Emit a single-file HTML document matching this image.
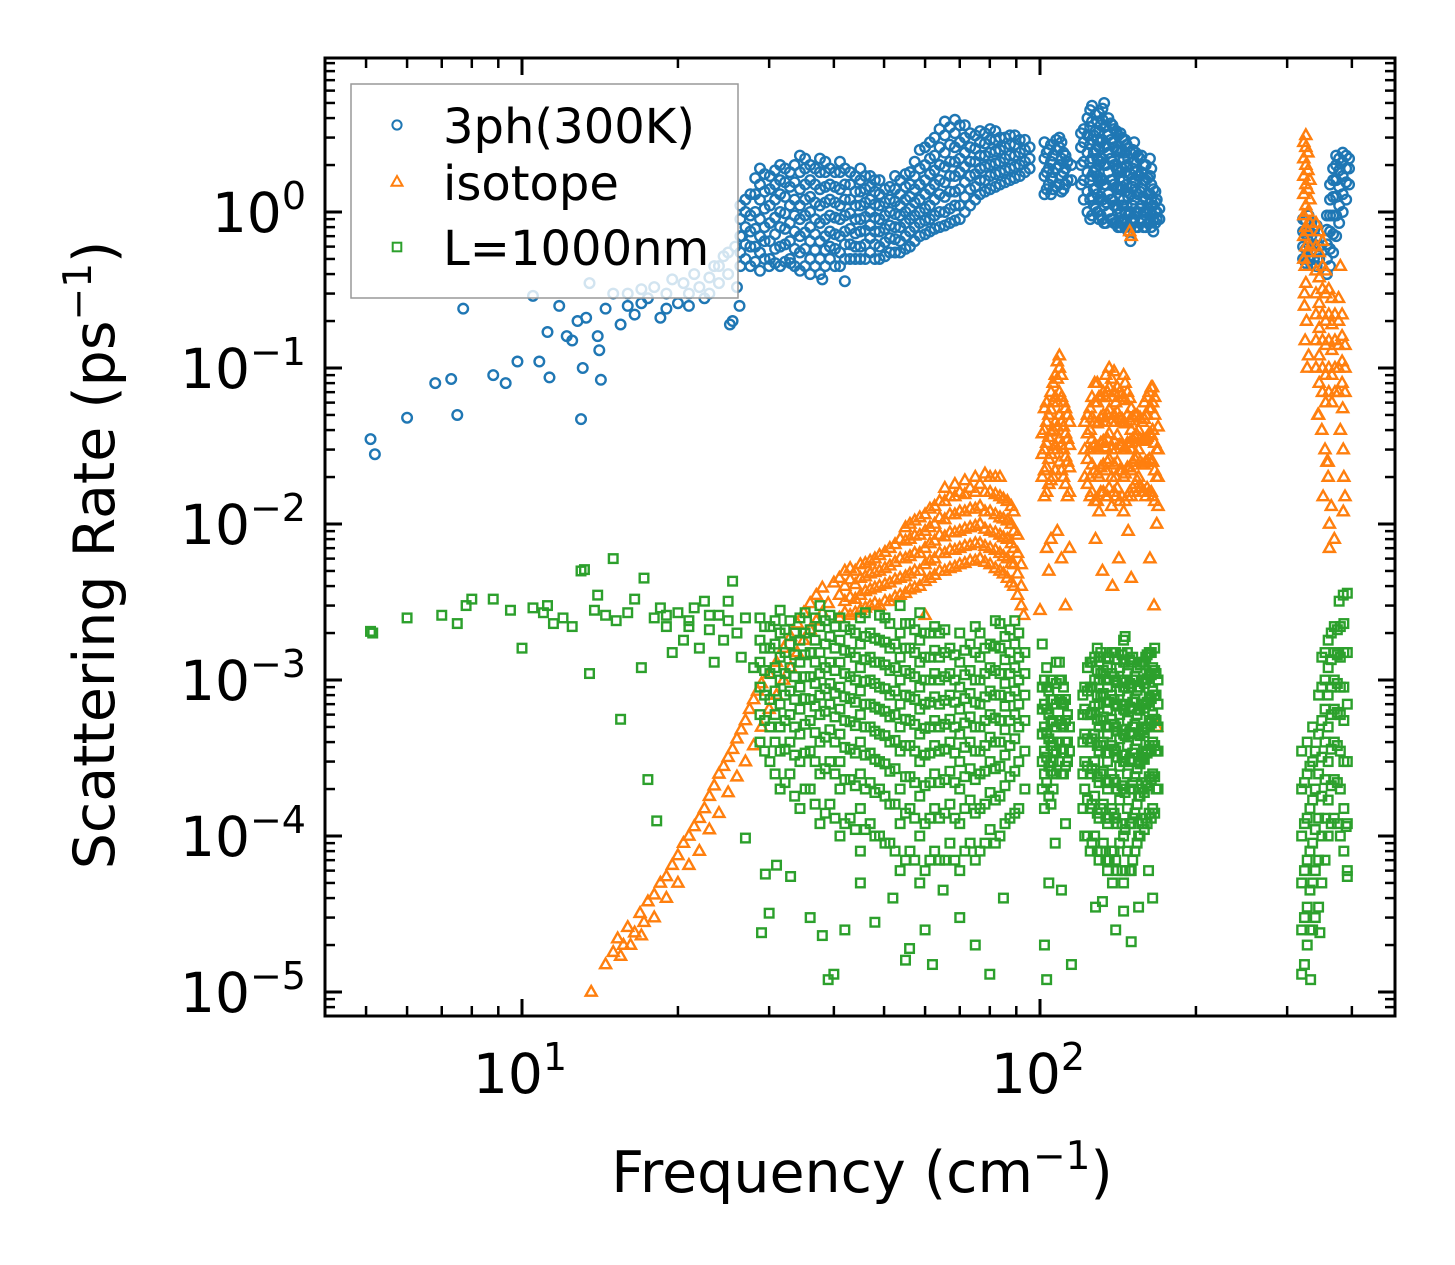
<!DOCTYPE html>
<html><head><meta charset="utf-8">
<style>
html,body{margin:0;padding:0;background:#fff;}
svg{display:block;font-family:"DejaVu Sans","Liberation Sans",sans-serif;}
</style></head>
<body>
<svg id="chart" width="1455" height="1265" viewBox="0 0 1455 1265" xmlns="http://www.w3.org/2000/svg">
<rect width="1455" height="1265" fill="#fff"/>
<g id="marks"></g>
<g id="axes"></g>
</svg>
<script>
// ---- data (frequency cm^-1, scattering rate ps^-1) ----
const xTickValues = [10, 100];
const yTickValues = [1e-5, 1e-4, 1e-3, 1e-2, 1e-1, 1];
const xTickExps = ['1', '2'];
const yTickExps = ['\u22125', '\u22124', '\u22123', '\u22122', '\u22121', '0'];
const seriesNames = ['3ph(300K)', 'isotope', 'L=1000nm'];

const bluePairs = [[5.1,0.035],[5.2,0.028],[6.0,0.048],[6.8,0.08],[7.3,0.085],[7.5,0.05],[7.7,0.24],[8.8,0.09],[9.3,0.08],[9.8,0.11],[10.5,0.29],[10.8,0.11],[11.2,0.17],[11.3,0.087],[11.8,0.25],[12.2,0.16],[12.5,0.15],[12.8,0.2],[13.0,0.047],[13.1,0.10],[13.3,0.21],[13.5,0.35],[14.0,0.16],[14.1,0.13],[14.2,0.084],[14.5,0.24],[15,0.3],[15.5,0.19],[16,0.3],[16.5,0.22],[17,0.26],[17.5,0.28],[18,0.33],[18.5,0.21],[19,0.3],[19.5,0.37],[20,0.26],[20.5,0.35],[21,0.3],[21.5,0.4],[22,0.33],[22.5,0.28],[23,0.38],[23.5,0.45],[24,0.35],[24.5,0.52],[25,0.4],[25.2,0.19],[25.5,0.2],[25.8,0.6],[26,0.33],[26.3,0.25],[26.6,0.7],[23,0.3],[21,0.25],[19,0.24],[17,0.32],[16,0.25],[24,0.45],[25,0.55],[38,0.37],[42,0.36],[36,0.4],[33,0.47],[30,0.45]];
const blueGroups = [
 [26.4,[0.45,0.55,0.7,0.9,1.1]],[27.6,[0.45,0.6,0.75,0.95,1.3]],[28.8,[0.42,0.55,0.7,0.9,1.2,1.5,1.9]],[30.1,[0.5,0.65,0.85,1.1,1.4,1.7]],
 [31.5,[0.45,0.6,0.8,1.0,1.3,1.6,2.0]],[32.9,[0.5,0.65,0.85,1.1,1.45,1.8]],[34.4,[0.42,0.55,0.7,0.9,1.1,1.4,1.8,2.3]],[36.0,[0.5,0.65,0.8,1.0,1.25,1.6,2.0]],
 [37.6,[0.4,0.5,0.65,0.85,1.1,1.4,1.8,2.2]],[39.3,[0.5,0.6,0.75,0.95,1.2,1.5,1.9]],[41.1,[0.45,0.55,0.7,0.9,1.1,1.4,1.8,2.1]],[43.0,[0.5,0.62,0.78,0.98,1.2,1.5,1.8]],
 [45,[0.5,0.6,0.75,0.9,1.1,1.35,1.6,1.9]],[47,[0.55,0.68,0.82,1.0,1.2,1.45,1.7]],[49,[0.5,0.6,0.75,0.9,1.1,1.3,1.6]],[51.3,[0.55,0.68,0.82,1.0,1.2,1.45]],
 [53.7,[0.55,0.65,0.8,0.95,1.1,1.3,1.6]],[56.1,[0.6,0.75,0.9,1.05,1.25,1.5,1.8]],[58.6,[0.7,0.85,1.0,1.2,1.5,1.9,2.5]],[61.3,[0.75,0.9,1.1,1.4,1.75,2.2,2.8]],
 [64,[0.8,1.0,1.3,1.6,2.0,2.6,3.4]],[67,[0.85,1.05,1.35,1.7,2.1,2.7,3.5]],[70,[0.9,1.1,1.4,1.8,2.2,2.8,3.6]],[73.3,[1.1,1.4,1.7,2.1,2.6,3.2]],
 [76.6,[1.3,1.6,1.9,2.3,2.8,3.3]],[80.1,[1.4,1.7,2.0,2.4,2.9,3.4]],[83.7,[1.5,1.8,2.1,2.5,3.0]],[87.5,[1.6,1.9,2.3,2.7,3.1]],[91.4,[1.7,2.0,2.4,2.9]],[95.5,[1.9,2.2,2.6]],
 [102,[1.3,1.7,2.2,2.8]],[104,[1.5,1.9,2.5]],[106,[1.4,1.8,2.3]],[109,[1.5,2.0,2.6,3.0]],[111,[1.4,1.8,2.4]],[113,[1.6,2.1]],
 [120,[1.5,2.0,2.6,3.2]],[125,[0.9,1.2,1.6,2.1,2.7,3.5,4.5]],[127,[1.1,1.4,1.8,2.4,3.1]],[129,[1.0,1.3,1.7,2.2,2.9,3.8]],[131,[0.95,1.25,1.6,2.1,2.8,3.6]],
 [133,[0.85,1.1,1.5,2.0,2.6,3.5,5.0]],[135.5,[1.0,1.3,1.8,2.4,3.1,4.0]],[138,[0.9,1.2,1.6,2.1,2.8,3.6]],[140.5,[0.85,1.1,1.45,1.9,2.5,3.3]],
 [143,[0.8,1.0,1.4,1.8,2.4,3.2]],[145,[0.9,1.2,1.6,2.2,2.9]],[147,[0.85,1.1,1.5,2.0,2.7]],[149.5,[0.65,0.8,1.0,1.3,1.75,2.4]],[152,[0.9,1.2,1.6,2.1,2.8]],
 [154.5,[0.8,1.0,1.3,1.7,2.3]],[157,[0.9,1.1,1.4,1.8,2.3]],[160,[0.8,1.0,1.2,1.6,2.0]],[163,[0.85,1.0,1.3,1.7,2.2]],[165.5,[0.75,0.9,1.1,1.4]],[168,[0.9,1.0,1.2]]
];
const blueGroupsExtra = [
 [27.0,[0.5,0.62,0.8,1.0,1.2]],[28.2,[0.48,0.6,0.78,1.0,1.3,1.65]],[29.4,[0.5,0.65,0.8,1.05,1.35,1.75]],[30.8,[0.47,0.58,0.72,0.92,1.2,1.5,1.85]],[32.2,[0.48,0.62,0.78,0.98,1.25,1.55,1.9]],[33.6,[0.45,0.58,0.75,0.95,1.2,1.55,2.0]],[35.2,[0.45,0.58,0.74,0.95,1.2,1.5,1.9,2.2]],[36.8,[0.45,0.57,0.72,0.9,1.15,1.5,1.9]],[38.5,[0.45,0.57,0.7,0.9,1.15,1.45,1.8,2.1]],[40.2,[0.45,0.58,0.72,0.92,1.15,1.45,1.8]],[42,[0.5,0.62,0.75,0.95,1.2,1.5,1.9]],[44,[0.5,0.6,0.73,0.9,1.1,1.35,1.7]],[46,[0.5,0.62,0.76,0.93,1.15,1.4,1.7]],[48,[0.5,0.62,0.75,0.92,1.12,1.35,1.6]],[50.2,[0.52,0.64,0.78,0.95,1.15,1.4]],[52.5,[0.55,0.67,0.8,0.97,1.17,1.4,1.7]],[55,[0.58,0.7,0.85,1.0,1.2,1.45,1.75]],[57.3,[0.65,0.8,0.95,1.15,1.4,1.7,2.1]],[60,[0.72,0.88,1.05,1.3,1.6,2.0,2.6]],[62.6,[0.78,0.95,1.2,1.5,1.85,2.3,3.0]],[65.5,[0.82,1.0,1.25,1.55,1.95,2.4,3.1,3.8]],[68.5,[0.88,1.1,1.35,1.7,2.1,2.6,3.2,3.9]],[71.6,[1.0,1.25,1.55,1.95,2.4,3.0,3.6]],[75,[1.2,1.45,1.75,2.1,2.55,3.1]],[78.3,[1.35,1.6,1.95,2.3,2.75,3.2]],[82,[1.45,1.75,2.05,2.45,2.9,3.3]],[85.6,[1.55,1.85,2.2,2.6,3.0]],[89.4,[1.65,1.95,2.3,2.7,3.1]],[93.5,[1.8,2.1,2.5,2.9]],
 [103,[1.4,1.8,2.4]],[105,[1.3,1.65,2.1,2.7]],[107.5,[1.45,1.9,2.5,2.9]],[110,[1.35,1.7,2.2,2.8]],[112,[1.5,1.9,2.3]],[115,[1.6,2.0]],
 [121.5,[1.2,1.6,2.1,2.8,3.4]],[123.5,[1.0,1.35,1.8,2.4,3.1,4.0]],[126,[0.95,1.25,1.7,2.2,2.9,3.8,4.8]],[128,[1.05,1.4,1.85,2.5,3.3,4.2]],[130,[0.9,1.2,1.55,2.0,2.6,3.3,4.3]],[132,[0.9,1.2,1.6,2.2,2.9,3.9,4.6]],[134,[0.85,1.15,1.5,2.0,2.7,3.6]],[137,[0.9,1.2,1.6,2.2,2.9,3.7]],[139,[0.85,1.1,1.5,2.0,2.6,3.4]],[141.5,[0.8,1.05,1.4,1.85,2.45,3.1]],[144,[0.85,1.1,1.45,1.9,2.5,3.0]],[146,[0.8,1.0,1.35,1.8,2.4,2.9]],[148,[0.75,0.95,1.25,1.7,2.2]],[151,[0.85,1.1,1.45,1.9,2.5]],[153,[0.8,1.0,1.35,1.8,2.4]],[156,[0.85,1.05,1.35,1.7,2.2]],[158.5,[0.8,1.0,1.25,1.6,2.0]],[161.5,[0.85,1.05,1.3,1.65]],[164,[0.8,0.95,1.2,1.5,1.9]],[167,[0.85,1.0,1.15,1.35]],[170,[0.9,1.05]],
 [322,[0.5,0.6,0.75,0.9]],[326,[0.47,0.58,0.72,0.88]],[330,[0.5,0.62,0.78,0.95]],[334,[0.46,0.57,0.7,0.85]],[338,[0.5,0.62,0.76]],[342,[0.45,0.55,0.68,0.82]],[346,[0.5,0.6]],
 [358,[0.4,0.5,0.62,0.77,0.95]],[363,[0.45,0.58,0.75,0.95,1.2,1.5]],[368,[0.55,0.72,0.95,1.25,1.6,1.9]],[373,[0.7,0.95,1.25,1.6,2.0,2.3]],[378,[0.85,1.1,1.45,1.85,2.2]],[384,[1.0,1.3,1.7,2.1,2.4]],[390,[1.2,1.55,1.9,2.3]],[395,[1.5,1.9,2.2]]
];

const orangePairs = [[13.6,1e-5],[14.5,1.5e-5],[15,1.8e-5],[15.3,2.2e-5],[15.7,2e-5],[16,2.6e-5],[16.5,2.4e-5],[16.9,3.2e-5],[17.2,2.8e-5],[17.5,3.8e-5],[18,4.2e-5],[18.5,5e-5],[19,5.5e-5],[19.5,6.5e-5],[20,7.5e-5],[20.5,9e-5],[21,1e-4],[21.5,1.15e-4],[22,1.3e-4],[22.5,1.5e-4],[23,1.8e-4],[23.5,2.1e-4],[24,2.5e-4],[24.5,2.8e-4],[25,3.2e-4],[25.5,3.6e-4],[26,4.2e-4],[26.5,4.8e-4],[27,5.5e-4],[27.5,6.5e-4],[28,7.5e-4],[28.5,8.5e-4],[29,9.5e-4],[30,1.1e-3],[31,1.3e-3],[32,1.6e-3],[33,1.9e-3],[34,2.3e-3],[35,2.7e-3],[36,3.1e-3],[37,3.5e-3],[38,3.9e-3],[40,4.2e-3],
 [15.5,1.7e-5],[16.2,2e-5],[17,2.3e-5],[18,3e-5],[19,4e-5],[20,5e-5],[21,6.5e-5],[22,8e-5],[23,1.1e-4],[24,1.4e-4],[25,1.9e-4],[26,2.4e-4],[27,3e-4],[28,3.8e-4],[29,5e-4],[30,6.5e-4],[31,8e-4],[32,1e-3],[33,1.2e-3],[34,1.5e-3],[35,1.8e-3],[36,2.1e-3],[37,2.4e-3],[38,2.7e-3],[39,3.1e-3],
 [103,7e-3],[104,5e-3],[105,8e-3],[108,9e-3],[110,6e-3],[112,3e-3],[114,7e-3],[128,8e-3],[132,5e-3],[138,4e-3],[142,6e-3],[148,9e-3],[150,4.5e-3],[163,6e-3],[166,3e-3],[168,5e-4],[150,0.7],[149,0.75],[93,2.6e-3],[60,2.6e-3],[100,2.8e-3],
 [325,0.45],[326,0.35],[324,0.25],[327,0.2],[325,0.15],[328,0.1],[324,0.3],[330,0.12],[345,0.05],[350,0.04],[355,0.03],[358,0.025],[360,0.02],[352,0.015],[365,0.013],[362,0.01],[370,0.008],[362,0.007],[380,0.04],[385,0.03],[386,0.02],[388,0.015],[385,0.012],[384,0.055],[380,0.45],[344,0.05],[360,0.025]];
const orangeGroups = [
 [41,[2.5e-3,3.5e-3,4.5e-3]],[43,[2.6e-3,3.4e-3,4.4e-3,5.2e-3]],[45,[2.8e-3,3.5e-3,4.5e-3,5.5e-3]],[47,[3e-3,3.8e-3,4.8e-3,5.8e-3]],[49,[3e-3,4e-3,5e-3,6.3e-3]],[51.3,[3.2e-3,4.2e-3,5.4e-3,7e-3]],
 [53.7,[3.5e-3,4.5e-3,6e-3,8e-3]],[56.1,[3.8e-3,4.8e-3,6.2e-3,8e-3,1e-2]],[58.6,[4e-3,5e-3,6.5e-3,8.5e-3,1.1e-2]],[61.3,[4.5e-3,5.8e-3,7.5e-3,9.5e-3,1.25e-2]],
 [64,[5e-3,6.5e-3,8.5e-3,1.1e-2,1.4e-2]],[67,[5.2e-3,6.8e-3,8.8e-3,1.15e-2,1.5e-2]],[70,[5.5e-3,7e-3,9e-3,1.2e-2,1.6e-2]],[73.3,[5.8e-3,7.3e-3,9.5e-3,1.25e-2,1.7e-2]],
 [76.6,[6e-3,7.5e-3,1e-2,1.3e-2,1.8e-2]],[80.1,[5.5e-3,7e-3,9e-3,1.2e-2,1.6e-2,2e-2]],[83.7,[5e-3,6.5e-3,8.5e-3,1.1e-2,1.5e-2,2e-2]],[86.5,[4.5e-3,6e-3,8e-3,1.05e-2,1.4e-2]],[89,[4e-3,5.5e-3,7e-3,9e-3,1.2e-2]],[92,[3e-3,4e-3,5.5e-3]],
 [102,[1.5e-2,2.2e-2,3e-2,4e-2,5.5e-2]],[104,[1.8e-2,2.6e-2,3.6e-2,5e-2]],[106,[2e-2,3e-2,4e-2,6e-2,8e-2]],[109,[2.5e-2,3.5e-2,5e-2,7e-2,0.1,0.12]],[111,[2e-2,3e-2,4.2e-2,6e-2]],[113,[1.5e-2,2.5e-2,3.5e-2,5e-2]],
 [122,[2e-2,3e-2,4.5e-2]],[125,[1.5e-2,2e-2,3e-2,4e-2,5.5e-2]],[127.5,[1.4e-2,2.2e-2,3.2e-2,4.5e-2,6e-2,8e-2]],[130,[1.2e-2,2e-2,3e-2,4.5e-2,6.5e-2]],[132.5,[1.6e-2,2.4e-2,3.4e-2,5e-2,7e-2]],
 [135,[1.5e-2,2.5e-2,3.5e-2,5e-2,7e-2]],[137.5,[1.3e-2,2e-2,3e-2,4.5e-2,6.5e-2,8.5e-2]],[140,[1.5e-2,2e-2,3e-2,4.5e-2,6e-2]],[142.5,[1.4e-2,2.2e-2,3.2e-2,4.8e-2,7e-2]],
 [145,[1.2e-2,2e-2,3e-2,4.5e-2,6.5e-2,9e-2]],[147.5,[1.5e-2,2.3e-2,3.3e-2,5e-2,7e-2]],[150,[1.5e-2,2.2e-2,3e-2,4e-2,5.5e-2]],[152.5,[1.8e-2,2.6e-2,3.6e-2,5e-2]],[155,[2e-2,3e-2,4e-2]],
 [157.5,[1.6e-2,2.4e-2,3.4e-2,4.5e-2]],[160,[1.5e-2,2.5e-2,3.5e-2,5e-2]],[162.5,[1.6e-2,2.6e-2,3.8e-2,5.5e-2,7e-2]],[165,[1.5e-2,2.5e-2,4e-2,6e-2,7.5e-2]],[168,[1e-2,2e-2,3e-2]]
];
const orangeGroupsExtra = [
 [42,[2.7e-3,3.2e-3,4e-3,5e-3]],[44,[2.7e-3,3.3e-3,4.1e-3,5e-3]],[46,[2.9e-3,3.7e-3,4.6e-3,5.6e-3]],[48,[3.1e-3,3.9e-3,4.9e-3,6e-3]],[50.2,[3.2e-3,4.1e-3,5.2e-3,6.6e-3]],[52.5,[3.4e-3,4.4e-3,5.7e-3,7.4e-3]],[55,[3.6e-3,4.6e-3,6e-3,7.8e-3,9.5e-3]],[57.3,[3.9e-3,5e-3,6.5e-3,8.4e-3,1.05e-2]],[60,[4.3e-3,5.5e-3,7e-3,9e-3,1.15e-2]],[62.6,[4.7e-3,6e-3,7.8e-3,1e-2,1.3e-2]],[65.5,[5e-3,6.5e-3,8.3e-3,1.07e-2,1.4e-2,1.7e-2]],[68.5,[5.3e-3,6.8e-3,8.8e-3,1.15e-2,1.5e-2,1.8e-2]],[71.6,[5.6e-3,7.2e-3,9.3e-3,1.2e-2,1.55e-2,1.9e-2]],[75,[5.8e-3,7.5e-3,9.7e-3,1.25e-2,1.6e-2,2e-2]],[78.3,[5.7e-3,7.2e-3,9.3e-3,1.2e-2,1.6e-2,2.1e-2]],[82,[5.2e-3,6.8e-3,8.8e-3,1.15e-2,1.55e-2,2e-2]],[85,[4.8e-3,6.2e-3,8.2e-3,1.08e-2,1.45e-2]],[88,[4.2e-3,5.6e-3,7.5e-3,1e-2,1.3e-2]],[90.5,[3.5e-3,4.8e-3,6.5e-3,8.5e-3]],
 [101,[2e-2,2.8e-2,3.8e-2]],[103,[1.6e-2,2.3e-2,3.3e-2,4.5e-2,6e-2]],[105,[1.9e-2,2.8e-2,3.9e-2,5.4e-2,7e-2]],[107,[2.2e-2,3.2e-2,4.5e-2,6.5e-2,9e-2]],[108,[3e-2,4.2e-2,6e-2,8.5e-2,0.11]],[110,[2.2e-2,3.2e-2,4.5e-2,6.5e-2,9e-2]],[112,[1.8e-2,2.7e-2,3.8e-2,5.5e-2]],[114,[1.6e-2,2.3e-2,3.2e-2,4.5e-2]],
 [123.5,[1.8e-2,2.6e-2,3.8e-2,5e-2]],[126,[1.6e-2,2.4e-2,3.5e-2,4.8e-2,6.5e-2]],[129,[1.4e-2,2.1e-2,3.1e-2,4.4e-2,6e-2,8e-2]],[131,[1.6e-2,2.3e-2,3.3e-2,4.8e-2,6.5e-2]],[134,[1.5e-2,2.2e-2,3.1e-2,4.5e-2,6.5e-2,9e-2]],[136,[1.7e-2,2.6e-2,3.8e-2,5.4e-2,7.5e-2,0.1]],[139,[1.6e-2,2.4e-2,3.4e-2,5e-2,7e-2,9.5e-2]],[141,[1.7e-2,2.5e-2,3.7e-2,5.2e-2,7.5e-2]],[144,[1.5e-2,2.2e-2,3.2e-2,4.7e-2,6.8e-2]],[146,[1.4e-2,2.1e-2,3.1e-2,4.4e-2,6.2e-2,8e-2]],[149,[1.6e-2,2.3e-2,3.3e-2,4.6e-2,6.4e-2]],[151,[1.7e-2,2.5e-2,3.5e-2,4.8e-2]],[154,[1.9e-2,2.7e-2,3.7e-2,5e-2]],[156,[1.7e-2,2.5e-2,3.5e-2,4.8e-2]],[159,[1.6e-2,2.4e-2,3.4e-2,4.7e-2,6e-2]],[161,[1.7e-2,2.5e-2,3.6e-2,5e-2,6.5e-2]],[164,[1.6e-2,2.5e-2,3.7e-2,5.5e-2,7.5e-2]],[166.5,[1.4e-2,2.2e-2,3.3e-2,5e-2,6.5e-2]],[169,[1.3e-2,2e-2,3e-2,4.2e-2]],
 [323,[0.5,0.7,0.95,1.3,1.7,2.2,2.8]],[326,[0.6,0.8,1.1,1.5,2.0,2.6,3.1]],[329,[0.55,0.75,1.0,1.4,1.85,2.4]],[332,[0.6,0.85,1.2,1.6]],
 [341,[0.1,0.15,0.22,0.3,0.42,0.6,0.85]],[346,[0.08,0.12,0.18,0.26,0.38,0.55,0.75]],[351,[0.07,0.1,0.15,0.22,0.32,0.45,0.65]],[356,[0.06,0.09,0.14,0.2,0.3,0.42]],[361,[0.07,0.1,0.15,0.22,0.32]],[366,[0.06,0.09,0.13,0.19,0.28]],[371,[0.07,0.1,0.15,0.22]],[377,[0.07,0.1,0.14,0.2,0.28]],[383,[0.08,0.11,0.16,0.22]],[388,[0.07,0.1,0.14]]
];

const greenPairs = [[5.1,2.05e-3],[5.15,2e-3],[6,2.5e-3],[7,2.6e-3],[7.5,2.3e-3],[7.8,3e-3],[8,3.3e-3],[8.8,3.3e-3],[9.5,2.8e-3],[10,1.6e-3],[10.5,2.9e-3],[11,2.7e-3],[11.2,3e-3],[11.5,2.3e-3],[12,2.5e-3],[12.5,2.2e-3],[13,5e-3],[13.2,5.1e-3],[13.5,1.1e-3],[13.8,2.8e-3],[14,3.5e-3],[14.5,2.6e-3],[15,6e-3],[15.2,2.4e-3],[15.5,5.6e-4],[16,2.7e-3],[16.5,3.3e-3],[17,1.2e-3],[17.2,4.5e-3],[17.5,2.3e-4],[18,2.5e-3],[18.2,1.25e-4],[18.5,2.9e-3],[19,2.2e-3],[19.5,1.5e-3],[20,2.7e-3],[20.5,1.8e-3],[21,2.4e-3],[21.5,2.9e-3],[22,1.6e-3],[22.5,3.2e-3],[23,2.1e-3],[23.5,1.3e-3],[24,2.6e-3],[24.5,1.8e-3],[25,3.2e-3],[25.5,4.3e-3],[26,2e-3],[26.5,1.4e-3],[27,2.5e-3],[27,9.7e-5],[28,1.2e-3],[29,2.4e-5],[29.5,5.7e-5],[30,3.2e-5],[31,6.5e-5],[33,5.5e-5],[36,3e-5],[38,2.3e-5],[39,1.2e-5],[40,1.3e-5],[42,2.5e-5],[45,5e-5],[48,2.8e-5],[52,4e-5],[55,1.6e-5],[56,1.9e-5],[60,2.5e-5],[62,1.5e-5],[65,4.5e-5],[70,3e-5],[75,2e-5],[80,1.3e-5],[85,4e-5],
 [104,5e-5],[107,9e-5],[110,4.5e-5],[102,2e-5],[103,1.2e-5],[115,1.5e-5],[112,1.2e-4],[101,1.7e-3],[128,3.5e-5],[132,3.8e-5],[140,2.5e-5],[145,3.3e-5],[150,2.1e-5],[155,3.5e-5],[162,6e-5],[165,4e-5],[138,5e-5],[21,2.2e-3],[23,2.6e-3],[19,2.6e-3],[25,2.4e-3],
 [333,1.2e-5],[347,2.4e-5],[390,1.15e-4],[392,5.5e-5],[385,3.5e-3],[378,3.2e-3]];
const greenGroups = [
 [28.8,[4e-4,6e-4,9e-4,1.3e-3,1.8e-3,2.5e-3]],[30.1,[3e-4,5e-4,7.5e-4,1.1e-3,1.6e-3,2.2e-3]],[31.5,[2e-4,3.5e-4,5e-4,7e-4,1e-3,1.4e-3,2e-3,2.8e-3]],[32.9,[2.5e-4,4e-4,6e-4,8.5e-4,1.2e-3,1.7e-3,2.4e-3]],
 [34.4,[1.5e-4,3e-4,4.5e-4,6.5e-4,9e-4,1.3e-3,1.8e-3,2.5e-3]],[36,[2e-4,3.5e-4,5.5e-4,7.5e-4,1.05e-3,1.5e-3,2.1e-3]],[37.6,[1.2e-4,2.5e-4,4e-4,6e-4,8e-4,1.1e-3,1.5e-3,2.2e-3,3e-3]],[39.3,[1.6e-4,3e-4,4.8e-4,7e-4,9.5e-4,1.3e-3,1.9e-3,2.6e-3]],
 [41.1,[1e-4,2e-4,3e-4,4.5e-4,6.5e-4,9e-4,1.3e-3,1.8e-3,2.5e-3]],[43,[1.3e-4,2.3e-4,3.6e-4,5.4e-4,7.6e-4,1.05e-3,1.5e-3,2.1e-3]],[45,[8e-5,1.5e-4,2.5e-4,4e-4,6e-4,8.5e-4,1.2e-3,1.7e-3,2.5e-3]],[47,[1.2e-4,2.2e-4,3.4e-4,5e-4,7e-4,1e-3,1.4e-3,2e-3]],
 [49,[1e-4,2e-4,3e-4,4.5e-4,6.5e-4,9e-4,1.3e-3,1.8e-3,2.6e-3]],[51.3,[9e-5,1.6e-4,2.6e-4,4e-4,5.8e-4,8e-4,1.15e-3,1.6e-3,2.3e-3]],[53.7,[6e-5,1.2e-4,2e-4,3.5e-4,5e-4,7e-4,1e-3,1.4e-3,2e-3,3e-3]],[56.1,[8e-5,1.5e-4,2.4e-4,3.8e-4,5.5e-4,7.8e-4,1.1e-3,1.6e-3,2.3e-3]],
 [58.6,[5e-5,1e-4,1.8e-4,3e-4,4.5e-4,6.5e-4,9e-4,1.3e-3,1.8e-3,2.7e-3]],[61.3,[7e-5,1.3e-4,2.2e-4,3.4e-4,5e-4,7.2e-4,1e-3,1.4e-3,2e-3]],[64,[7e-5,1.3e-4,2.2e-4,3.5e-4,5e-4,7e-4,1e-3,1.4e-3,2e-3]],[67,[9e-5,1.6e-4,2.6e-4,4e-4,5.6e-4,8e-4,1.1e-3,1.6e-3]],
 [70,[6e-5,1.2e-4,2e-4,3e-4,4.5e-4,6.5e-4,9e-4,1.3e-3,2e-3]],[73.3,[9e-5,1.7e-4,2.7e-4,4e-4,5.8e-4,8.2e-4,1.15e-3,1.7e-3]],[76.6,[8e-5,1.5e-4,2.5e-4,3.5e-4,5e-4,7e-4,1e-3,1.4e-3,2e-3]],[80.1,[1.1e-4,1.9e-4,3e-4,4.3e-4,6e-4,8.5e-4,1.2e-3,1.7e-3]],
 [83.7,[1e-4,1.8e-4,2.8e-4,4e-4,5.5e-4,8e-4,1.1e-3,1.6e-3,2.3e-3]],[87.5,[1.3e-4,2.4e-4,3.8e-4,5.5e-4,7.8e-4,1.1e-3,1.5e-3,2.1e-3]],[91,[1.5e-4,3e-4,5e-4,7e-4,1e-3,1.4e-3,2e-3]],
 [102,[1.5e-4,2.5e-4,3.5e-4,5e-4,7e-4,1e-3]],[104,[1.8e-4,2.8e-4,4.2e-4,6e-4,8.5e-4]],[106,[2e-4,3e-4,4e-4,5.5e-4,7.5e-4]],[109,[3e-4,4e-4,5.5e-4,7.5e-4,1e-3,1.3e-3]],[111,[2.5e-4,3.6e-4,5e-4,7e-4,9e-4]],[113,[3e-4,4e-4,6e-4]],
 [122,[1e-4,2e-4,3e-4,4.5e-4,6.5e-4,9e-4]],[125,[8e-5,1.5e-4,2.5e-4,4e-4,6e-4,9e-4,1.3e-3]],[127.5,[1e-4,1.8e-4,3e-4,4.5e-4,6.8e-4,1e-3,1.4e-3]],[130,[7e-5,1.3e-4,2.2e-4,3.5e-4,5e-4,7e-4,1e-3,1.4e-3]],
 [132.5,[9e-5,1.6e-4,2.6e-4,4e-4,5.8e-4,8.2e-4,1.15e-3]],[135,[6e-5,1.2e-4,2e-4,3e-4,4.5e-4,6.5e-4,9e-4,1.2e-3]],[137.5,[8e-5,1.5e-4,2.5e-4,3.8e-4,5.6e-4,8e-4,1.1e-3,1.5e-3]],[140,[7e-5,1.3e-4,2.2e-4,3.5e-4,5e-4,7e-4,1e-3,1.5e-3]],
 [142.5,[9e-5,1.7e-4,2.8e-4,4.2e-4,6e-4,8.5e-4,1.2e-3]],[145,[5e-5,1e-4,2e-4,3e-4,4.5e-4,6.5e-4,9e-4,1.3e-3,1.8e-3]],[147.5,[8e-5,1.5e-4,2.5e-4,3.8e-4,5.5e-4,7.8e-4,1.1e-3,1.5e-3]],[150,[6e-5,1.2e-4,2e-4,3e-4,4.5e-4,6.5e-4,9e-4,1.3e-3]],
 [152.5,[8e-5,1.4e-4,2.4e-4,3.6e-4,5.2e-4,7.5e-4,1.05e-3]],[155,[1e-4,1.8e-4,3e-4,4.5e-4,6.5e-4,9e-4]],[157.5,[1.2e-4,2e-4,3.2e-4,4.8e-4,7e-4,1e-3,1.3e-3]],[160,[1.3e-4,2.2e-4,3.5e-4,5e-4,7e-4,1e-3,1.4e-3]],
 [162.5,[1.4e-4,2.4e-4,3.8e-4,5.5e-4,7.8e-4,1.1e-3,1.5e-3]],[165,[1.5e-4,2.5e-4,4e-4,6e-4,8.5e-4,1.2e-3]],[167.5,[2e-4,3.5e-4,5.5e-4,8e-4,1.1e-3]]
];
const greenGroupsExtra = [
 [29.4,[3.5e-4,5.5e-4,8e-4,1.15e-3,1.6e-3,2.2e-3]],[30.8,[2.5e-4,4e-4,6e-4,8.5e-4,1.2e-3,1.7e-3,2.4e-3]],[32.2,[2.2e-4,3.6e-4,5.5e-4,8e-4,1.1e-3,1.5e-3,2.1e-3]],[33.6,[1.8e-4,3.3e-4,5e-4,7.5e-4,1.05e-3,1.45e-3,2e-3]],[35.2,[2e-4,3.4e-4,5.2e-4,7.6e-4,1.05e-3,1.45e-3,2e-3,2.7e-3]],[36.8,[1.6e-4,3e-4,4.6e-4,6.8e-4,9.5e-4,1.3e-3,1.8e-3,2.5e-3]],[38.5,[1.4e-4,2.7e-4,4.3e-4,6.3e-4,8.8e-4,1.2e-3,1.7e-3,2.4e-3]],[40.2,[1.3e-4,2.5e-4,4e-4,5.8e-4,8.2e-4,1.15e-3,1.6e-3,2.2e-3]],[42,[1.2e-4,2.3e-4,3.7e-4,5.5e-4,7.8e-4,1.1e-3,1.55e-3,2.2e-3]],[44,[1.1e-4,2.1e-4,3.4e-4,5.1e-4,7.2e-4,1e-3,1.4e-3,2e-3]],[46,[1.1e-4,2e-4,3.3e-4,5e-4,7e-4,9.8e-4,1.35e-3,1.9e-3,2.7e-3]],[48,[1e-4,1.9e-4,3.1e-4,4.7e-4,6.7e-4,9.5e-4,1.3e-3,1.85e-3]],[50.2,[9e-5,1.8e-4,2.9e-4,4.4e-4,6.3e-4,8.8e-4,1.25e-3,1.75e-3,2.5e-3]],[52.5,[8e-5,1.6e-4,2.7e-4,4.1e-4,6e-4,8.5e-4,1.2e-3,1.7e-3]],[55,[7e-5,1.4e-4,2.4e-4,3.8e-4,5.6e-4,8e-4,1.15e-3,1.6e-3,2.3e-3]],[57.3,[7e-5,1.3e-4,2.2e-4,3.5e-4,5.2e-4,7.5e-4,1.05e-3,1.5e-3,2.1e-3]],[60,[6e-5,1.2e-4,2.1e-4,3.3e-4,4.9e-4,7e-4,1e-3,1.4e-3,2e-3]],[62.6,[8e-5,1.5e-4,2.5e-4,3.8e-4,5.5e-4,7.8e-4,1.1e-3,1.55e-3,2.2e-3]],[65.5,[7e-5,1.4e-4,2.3e-4,3.6e-4,5.2e-4,7.4e-4,1.05e-3,1.5e-3,2.1e-3]],[68.5,[7e-5,1.3e-4,2.2e-4,3.4e-4,5e-4,7.2e-4,1e-3,1.45e-3]],[71.6,[8e-5,1.5e-4,2.4e-4,3.7e-4,5.3e-4,7.6e-4,1.08e-3,1.55e-3]],[75,[7e-5,1.4e-4,2.3e-4,3.5e-4,5e-4,7.2e-4,1e-3,1.5e-3,2.2e-3]],[78.3,[9e-5,1.6e-4,2.6e-4,3.8e-4,5.5e-4,7.8e-4,1.1e-3,1.6e-3]],[82,[9e-5,1.7e-4,2.7e-4,4e-4,5.7e-4,8e-4,1.15e-3,1.65e-3,2.4e-3]],[85.6,[1.2e-4,2.1e-4,3.3e-4,4.8e-4,6.8e-4,9.5e-4,1.35e-3,1.9e-3]],[89.4,[1.4e-4,2.6e-4,4.2e-4,6e-4,8.5e-4,1.2e-3,1.7e-3,2.4e-3]],[93.5,[2e-4,3.5e-4,5.5e-4,8e-4,1.1e-3,1.5e-3]],
 [101,[2e-4,3e-4,4.5e-4,6.5e-4,9e-4]],[103,[2.2e-4,3.2e-4,4.6e-4,6.5e-4,9e-4,1.2e-3]],[105,[1.6e-4,2.6e-4,3.8e-4,5.4e-4,7.5e-4,1e-3]],[107.5,[2.5e-4,3.5e-4,5e-4,7e-4,9.5e-4,1.3e-3]],[110,[2.5e-4,3.6e-4,5.2e-4,7.2e-4,1e-3]],[112,[2.8e-4,4e-4,5.5e-4,7.5e-4]],[114,[3.5e-4,5e-4]],
 [121,[1.5e-4,2.5e-4,4e-4,6e-4,8e-4]],[123.5,[1e-4,1.7e-4,2.8e-4,4.2e-4,6e-4,8.5e-4,1.2e-3]],[126,[9e-5,1.6e-4,2.7e-4,4.2e-4,6.2e-4,9e-4,1.3e-3]],[129,[8e-5,1.4e-4,2.4e-4,3.8e-4,5.6e-4,8e-4,1.15e-3,1.6e-3]],[131,[8e-5,1.5e-4,2.5e-4,3.8e-4,5.5e-4,7.8e-4,1.1e-3,1.5e-3]],[134,[7e-5,1.3e-4,2.2e-4,3.4e-4,5e-4,7.2e-4,1e-3,1.4e-3]],[136,[7e-5,1.3e-4,2.2e-4,3.4e-4,5e-4,7.2e-4,1e-3,1.4e-3]],[139,[8e-5,1.4e-4,2.3e-4,3.6e-4,5.2e-4,7.5e-4,1.05e-3,1.5e-3]],[141,[6e-5,1.2e-4,2e-4,3.2e-4,4.7e-4,6.8e-4,9.6e-4,1.35e-3]],[144,[6e-5,1.2e-4,2.1e-4,3.3e-4,4.8e-4,7e-4,1e-3,1.45e-3]],[146,[6e-5,1.1e-4,1.9e-4,3e-4,4.4e-4,6.4e-4,9e-4,1.3e-3,1.9e-3]],[149,[6e-5,1.2e-4,2e-4,3.1e-4,4.6e-4,6.7e-4,9.5e-4,1.35e-3]],[151,[7e-5,1.3e-4,2.2e-4,3.4e-4,5e-4,7.2e-4,1e-3,1.4e-3]],[154,[9e-5,1.6e-4,2.7e-4,4.1e-4,6e-4,8.6e-4,1.2e-3]],[156,[1e-4,1.8e-4,2.9e-4,4.4e-4,6.4e-4,9e-4,1.25e-3]],[159,[1.1e-4,1.9e-4,3.1e-4,4.6e-4,6.6e-4,9.5e-4,1.3e-3]],[161,[1.2e-4,2.1e-4,3.4e-4,5e-4,7.2e-4,1.02e-3,1.45e-3]],[164,[1.3e-4,2.3e-4,3.6e-4,5.3e-4,7.6e-4,1.08e-3,1.5e-3]],[166.5,[1.4e-4,2.4e-4,3.8e-4,5.6e-4,8e-4,1.15e-3,1.6e-3]],[169,[2e-4,3.5e-4,5e-4,7e-4,1e-3]],
 [320,[1.3e-5,2.5e-5,5e-5,1e-4,2e-4,3.5e-4]],[324,[1.5e-5,3e-5,6e-5,1.2e-4,2.2e-4]],[328,[2e-5,3.5e-5,7e-5,1.3e-4,2.5e-4,4e-4]],[332,[2.5e-5,4.5e-5,8e-5,1.5e-4,2.8e-4]],[336,[2.5e-5,5e-5,9e-5,1.7e-4,3e-4,5e-4]],[340,[3e-5,6e-5,1.1e-4,2e-4,3.5e-4]],[345,[3.5e-5,7e-5,1.3e-4,2.5e-4,4.5e-4,8e-4]],[350,[5e-5,1e-4,1.8e-4,3.2e-4,5.5e-4,9e-4,1.4e-3]],[355,[7e-5,1.3e-4,2.3e-4,4e-4,6.5e-4,1e-3,1.5e-3]],[360,[1e-4,1.7e-4,3e-4,5e-4,8e-4,1.2e-3,1.8e-3]],[365,[1.2e-4,2.1e-4,3.6e-4,6e-4,9e-4,1.35e-3,2e-3]],[370,[1.3e-4,2.3e-4,4e-4,6.5e-4,1e-3,1.5e-3,2.2e-3]],[375,[1.2e-4,2.2e-4,3.8e-4,6.2e-4,9.5e-4,1.45e-3,2.1e-3]],[380,[1e-4,2e-4,3.5e-4,6e-4,9e-4,1.4e-3,2.2e-3]],[386,[8e-5,1.5e-4,3e-4,5.5e-4,9e-4,1.5e-3,2.3e-3]],[392,[6e-5,1.2e-4,3e-4,7e-4,1.5e-3,3.6e-3]]
];

// ---- axes mapping ----
const X0 = 325, X1 = 1395, Y0 = 58, Y1 = 1016;
const XD = 518, X10 = 522;
const YD = 156, Y1e0 = 212;
function xs(f){ return X10 + XD*(Math.log10(f)-1); }
function ys(r){ return Y1e0 - YD*Math.log10(r); }

const NS = 'http://www.w3.org/2000/svg';
function mk(tag, attrs, parent){
  const e = document.createElementNS(NS, tag);
  for (const k in attrs) e.setAttribute(k, attrs[k]);
  parent.appendChild(e);
  return e;
}
const marks = document.getElementById('marks');
const axes = document.getElementById('axes');

const clip = mk('clipPath', {id:'pc'}, marks);
mk('rect', {x:X0, y:Y0, width:X1-X0, height:Y1-Y0}, clip);
const gB = mk('g', {'clip-path':'url(#pc)'}, marks);


const gO = mk('g', {'clip-path':'url(#pc)'}, marks);


const gG = mk('g', {'clip-path':'url(#pc)'}, marks);



const SW = 2.4;
function circle(g, f, r){
  const e = mk('circle', {cx:xs(f), cy:ys(r), r:4.8, fill:'none', stroke:'#1f77b4', 'stroke-width':SW}, g);
  
  
}
function tri(g, f, r){
  const x = xs(f), y = ys(r);
  const e = mk('polygon', {points:`${x},${y-6} ${x+5.5},${y+3.7} ${x-5.5},${y+3.7}`, fill:'none', stroke:'#ff7f0e', 'stroke-width':SW}, g);
  
  
}
function sq(g, f, r){
  const x = xs(f), y = ys(r);
  const e = mk('rect', {x:x-4.3, y:y-4.3, width:8.6, height:8.6, fill:'none', stroke:'#2ca02c', 'stroke-width':SW}, g);
  
  
}
function draw(g, pairs, groupLists, fn){
  pairs.forEach(p => fn(g, p[0], p[1]));
  groupLists.forEach(groups => groups.forEach(gr => gr[1].forEach(v => fn(g, gr[0], v))));
}
draw(gB, bluePairs, [blueGroups, blueGroupsExtra], circle);
draw(gO, orangePairs, [orangeGroups, orangeGroupsExtra], tri);
draw(gG, greenPairs, [greenGroups, greenGroupsExtra], sq);

// ---- legend ----
const leg = mk('g', {}, axes);


mk('rect', {x:351, y:84, width:387, height:214, fill:'#fff', 'fill-opacity':0.8, stroke:'#999', 'stroke-width':1.5}, leg);
const legY = [133, 190, 255];
seriesNames.forEach((n, i) => {
  const ent = mk('g', {}, leg);
  
  
  const mx = 397, cy = legY[i] - 8;
  if (i === 0) mk('circle', {cx:mx, cy:cy, r:4.6, fill:'none', stroke:'#1f77b4', 'stroke-width':2}, ent);
  if (i === 1) mk('polygon', {points:`${mx},${cy-6} ${mx+5.5},${cy+3.7} ${mx-5.5},${cy+3.7}`, fill:'none', stroke:'#ff7f0e', 'stroke-width':2}, ent);
  if (i === 2) mk('rect', {x:mx-4.3, y:cy-4.3, width:8.6, height:8.6, fill:'none', stroke:'#2ca02c', 'stroke-width':2}, ent);
  const t = mk('text', {x:443, y:legY[i]+10, 'font-size':48, fill:'#000'}, ent);
  t.textContent = n;
});

// ---- frame & ticks ----
mk('rect', {x:X0, y:Y0, width:X1-X0, height:Y1-Y0, fill:'none', stroke:'#000', 'stroke-width':3}, axes);
function tick(x1,y1,x2,y2,w){ mk('line', {x1,y1,x2,y2, stroke:'#000', 'stroke-width':w}, axes); }
for (let d = 0; d <= 2; d++){
  for (let m = 1; m <= 9; m++){
    const x = xs(m*Math.pow(10,d));
    if (x < X0+1 || x > X1-1) continue;
    const L = m === 1 ? 17 : 10, w = m === 1 ? 3 : 2.5;
    tick(x, Y1, x, Y1-L, w); tick(x, Y0, x, Y0+L, w);
  }
}
for (let d = -6; d <= 0; d++){
  for (let m = 1; m <= 9; m++){
    const y = ys(m*Math.pow(10,d));
    if (y < Y0+1 || y > Y1-1) continue;
    const L = m === 1 ? 17 : 10, w = m === 1 ? 3 : 2.5;
    tick(X0, y, X0+L, y, w); tick(X1, y, X1-L, y, w);
  }
}
xTickValues.forEach((v, i) => {
  const t = mk('text', {x:xs(v)-2, y:1093, 'font-size':55, 'text-anchor':'middle', fill:'#000'}, axes);
  
  
  t.innerHTML = `10<tspan dy="-23" font-size="38">${xTickExps[i]}</tspan>`;
});
yTickValues.forEach((v, i) => {
  const t = mk('text', {x:306, y:ys(v)+20, 'font-size':55, 'text-anchor':'end', fill:'#000'}, axes);
  
  
  t.innerHTML = `10<tspan dy="-23" font-size="38">${yTickExps[i]}</tspan>`;
});
const xl = mk('text', {x:862, y:1192, 'font-size':57, 'text-anchor':'middle', fill:'#000'}, axes);


xl.innerHTML = 'Frequency (cm<tspan dy="-23" font-size="39">\u22121</tspan><tspan dy="23">)</tspan>';
const yl = mk('text', {x:0, y:0, 'font-size':57, 'text-anchor':'middle', fill:'#000', transform:'translate(114,555) rotate(-90)'}, axes);


yl.innerHTML = 'Scattering Rate (ps<tspan dy="-23" font-size="39">\u22121</tspan><tspan dy="23">)</tspan>';
</script>
</body></html>
